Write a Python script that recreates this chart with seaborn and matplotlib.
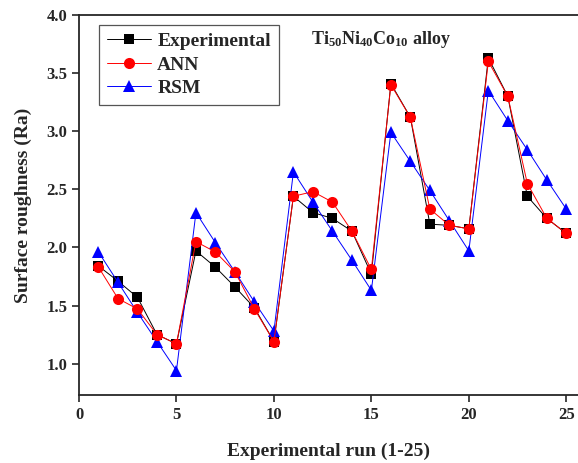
import numpy as np
import pandas as pd
import matplotlib
matplotlib.use('Agg')
import matplotlib.pyplot as plt
import seaborn as sns

sns.set_style("ticks")
plt.rcParams['font.family'] = ['Liberation Serif', 'DejaVu Serif']
plt.rcParams['font.weight'] = 'bold'
plt.rcParams['mathtext.default'] = 'regular'

# Surface roughness values per experimental run
runs = list(range(1, 26))
experimental = [1.84, 1.71, 1.57, 1.25, 1.17, 1.97, 1.83, 1.66, 1.48, 1.19,
                2.44, 2.30, 2.25, 2.14, 1.77, 3.41, 3.12, 2.20, 2.19, 2.16,
                3.63, 3.30, 2.44, 2.25, 2.12]
ann = [1.83, 1.56, 1.47, 1.25, 1.17, 2.05, 1.96, 1.79, 1.47, 1.19,
       2.44, 2.48, 2.39, 2.14, 1.81, 3.40, 3.12, 2.33, 2.19, 2.16,
       3.60, 3.30, 2.55, 2.25, 2.12]
rsm = [1.96, 1.70, 1.44, 1.19, 0.94, 2.30, 2.04, 1.79, 1.53, 1.28,
       2.65, 2.39, 2.14, 1.89, 1.63, 2.99, 2.74, 2.49, 2.23, 1.97,
       3.35, 3.09, 2.84, 2.58, 2.33]

df = pd.DataFrame({'run': runs, 'Experimental': experimental, 'ANN': ann, 'RSM': rsm})

fig = plt.figure(figsize=(5.78, 4.63), dpi=100)
ax = fig.add_axes([79 / 578, 68 / 463, 499 / 578, 380 / 463])

sns.lineplot(data=df, x='run', y='Experimental', ax=ax, color='black', marker='s',
             markersize=7, markeredgewidth=0, linewidth=0.7, label='Experimental')
sns.lineplot(data=df, x='run', y='RSM', ax=ax, color='blue', marker='^',
             markersize=9, markeredgewidth=0, linewidth=0.7, label='RSM', zorder=3)
sns.lineplot(data=df, x='run', y='ANN', ax=ax, color='red', marker='o',
             markersize=8, markeredgewidth=0, linewidth=0.7, label='ANN', zorder=4)

ax.set_xlim(0, 25.6)
ax.set_ylim(0.73, 4.0)
ax.set_xticks([0, 5, 10, 15, 20, 25])
ax.set_yticks(np.arange(1.0, 4.01, 0.5))
ax.set_yticklabels([f'{v:.1f}' for v in np.arange(1.0, 4.01, 0.5)])
ax.tick_params(direction='out', length=5, width=1.2, labelsize=12)
for lab in ax.get_xticklabels() + ax.get_yticklabels():
    lab.set_fontweight('bold')
for s in ['left', 'bottom', 'top']:
    ax.spines[s].set_linewidth(1.3)
    ax.spines[s].set_visible(True)
ax.spines['right'].set_visible(False)

ax.set_xlabel('Experimental run (1-25)', fontsize=14, fontweight='bold', labelpad=14)
ax.set_ylabel('Surface roughness (Ra)', fontsize=14, fontweight='bold', labelpad=10)

handles, labels = ax.get_legend_handles_labels()
order = [labels.index(k) for k in ['Experimental', 'ANN', 'RSM']]
leg = ax.legend([handles[i] for i in order], [labels[i] for i in order],
                loc='upper left', bbox_to_anchor=(0.04, 0.974), borderaxespad=0,
                fancybox=False, edgecolor='#555555', framealpha=1,
                prop={'size': 14, 'weight': 'bold'},
                handlelength=2.3, borderpad=0.4, labelspacing=0.3, handletextpad=0.3)
leg.get_frame().set_linewidth(0.9)

ax.text(0.465, 0.935, r'Ti$_{50}$Ni$_{40}$Co$_{10}$ alloy', transform=ax.transAxes,
        fontsize=13, fontweight='bold', ha='left', va='center')

fig.savefig('out.png', dpi=100)
